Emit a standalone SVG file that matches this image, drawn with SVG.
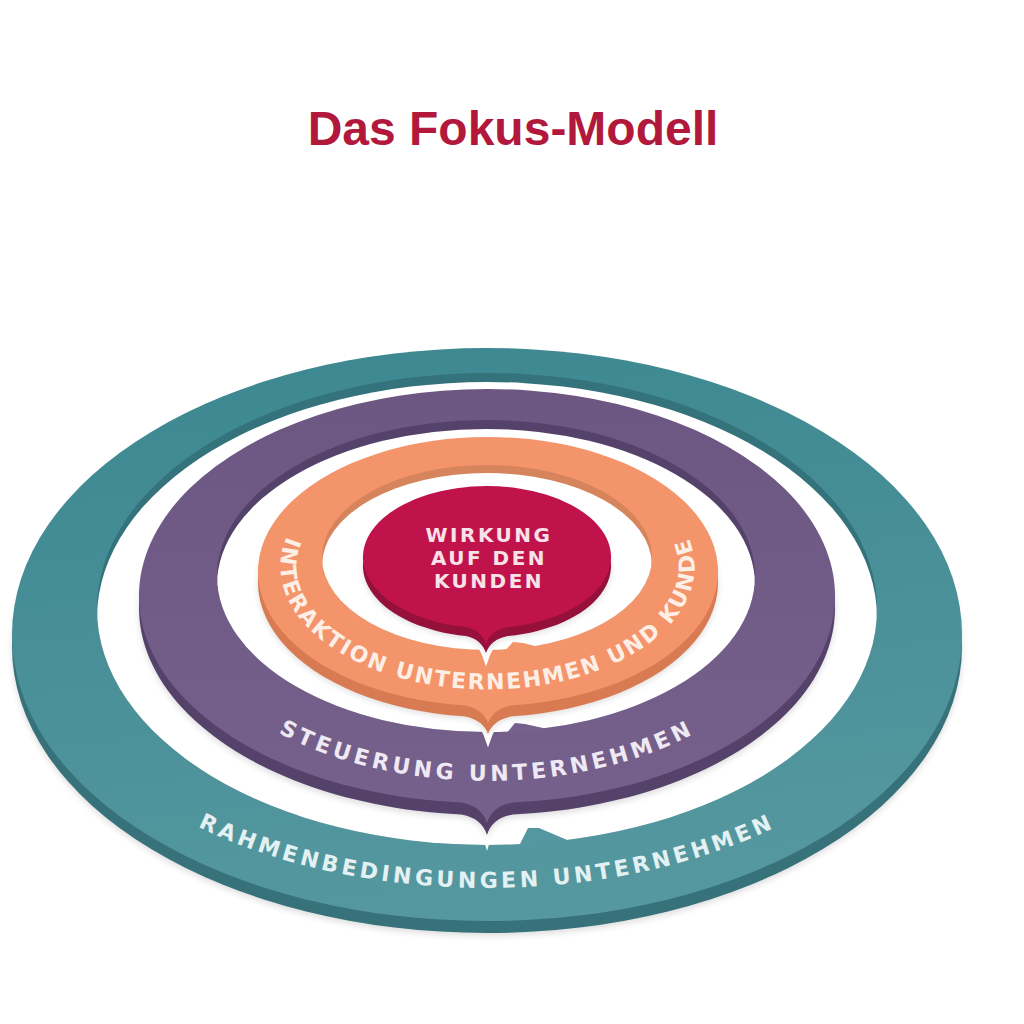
<svg xmlns="http://www.w3.org/2000/svg" xmlns:xlink="http://www.w3.org/1999/xlink" width="1024" height="1024" viewBox="0 0 1024 1024">
  <style>
    .ttl { font-family: "Liberation Sans", Arial, sans-serif; font-weight: 700; font-size: 48px; fill: #b2183b; }
    .rt { font-family: "DejaVu Sans", "Liberation Sans", sans-serif; font-weight: 700; font-size: 22px; }
    .ctr { font-family: "DejaVu Sans", "Liberation Sans", sans-serif; font-weight: 700; font-size: 20px; fill: #f7e2e9; letter-spacing: 2.5px; text-anchor: middle; }
    .halo { fill: none; stroke: #ffffff; stroke-width: 9; }
    .shadow { fill: #000000; opacity: 0.13; }
    .hole { fill: #ffffff; }
  </style>
  <defs>
    <filter id="blur" x="-10%" y="-10%" width="120%" height="120%">
      <feGaussianBlur stdDeviation="3"/>
    </filter>
    <linearGradient id="gTeal" x1="0.35" y1="0" x2="0.55" y2="1">
      <stop offset="0" stop-color="#3d8891"/>
      <stop offset="1" stop-color="#5698a0"/>
    </linearGradient>
    <linearGradient id="gPurple" x1="0" y1="0" x2="0" y2="1">
      <stop offset="0" stop-color="#6c5682"/>
      <stop offset="1" stop-color="#76618c"/>
    </linearGradient>
    <!-- outer outlines -->
    <ellipse id="sTeal" cx="487" cy="634.5" rx="475" ry="286.5"/>
    <path id="sPurple" d="M 461 802.4 A 348 207 0 1 1 513 802.4 Q 492 806 487 823 Q 482 806 461 802.4 Z"/>
    <path id="sOrange" d="M 464 705.3 A 230 134.5 0 1 1 512 705.3 Q 493 709 488 723 Q 483 709 464 705.3 Z"/>
    <path id="sRed" d="M 466 627 A 124 71 0 1 1 508 627 Q 491 630 486 644 Q 481 630 466 627 Z"/>
    <!-- holes -->
    <clipPath id="cTeal"><ellipse cx="487" cy="609" rx="390" ry="236"/></clipPath>
    <clipPath id="cPurple"><ellipse cx="486" cy="576" rx="269" ry="156"/></clipPath>
    <clipPath id="cOrange"><ellipse cx="487" cy="557.5" rx="165" ry="92.5"/></clipPath>
    <!-- text paths -->
    <path id="pTeal" d="M 38.9 666.4 A 455 268 0 0 0 935.1 666.4"/>
    <path id="pPurple" d="M 175.8 621.3 A 316 193 0 0 0 798.2 621.3"/>
    <path id="pOrange" d="M 293 524.3 A 207 123 0 1 0 682 524.3"/>
  </defs>

  <rect width="1024" height="1024" fill="#ffffff"/>

  <g id="title">
    <text class="ttl" x="513" y="145" text-anchor="middle">Das Fokus-Modell</text>
  </g>

  <g id="ring-rahmenbedingungen">
    <use href="#sTeal" class="shadow" filter="url(#blur)" transform="translate(0,15)"/>
    <use href="#sTeal" fill="#37727a" transform="translate(0,12)"/>
    <use href="#sTeal" fill="url(#gTeal)"/>
    <ellipse cx="487" cy="609" rx="390" ry="236" fill="#34737b"/>
    <ellipse class="hole" cx="487" cy="618" rx="390" ry="236" clip-path="url(#cTeal)"/>
    <polygon points="518,848 528,828 539,828 572,842" fill="#5597a0"/>
    <text class="rt" fill="#e4f1f2" letter-spacing="3.7" text-anchor="middle"><textPath href="#pTeal" startOffset="50%">RAHMENBEDINGUNGEN UNTERNEHMEN</textPath></text>
  </g>

  <g id="ring-steuerung">
    <use href="#sPurple" class="halo" transform="translate(0,12)"/>
    <use href="#sPurple" class="shadow" filter="url(#blur)" transform="translate(0,15)"/>
    <use href="#sPurple" fill="#54426a" transform="translate(0,12)"/>
    <use href="#sPurple" fill="url(#gPurple)"/>
    <ellipse cx="486" cy="576" rx="269" ry="156" fill="#55426b"/>
    <ellipse class="hole" cx="486" cy="585" rx="269" ry="156" clip-path="url(#cPurple)"/>
    <polygon points="505,735 515,723 525,724 552,730" fill="#76618c"/>
    <text class="rt" fill="#efe9f4" letter-spacing="4" text-anchor="middle"><textPath href="#pPurple" startOffset="50%">STEUERUNG UNTERNEHMEN</textPath></text>
  </g>

  <g id="ring-interaktion">
    <use href="#sOrange" class="halo" transform="translate(0,11)"/>
    <use href="#sOrange" class="shadow" filter="url(#blur)" transform="translate(0,13)"/>
    <use href="#sOrange" fill="#d97b52" transform="translate(0,11)"/>
    <use href="#sOrange" fill="#f3946a"/>
    <ellipse cx="487" cy="557.5" rx="165" ry="92.5" fill="#d5845c"/>
    <ellipse class="hole" cx="487" cy="565.5" rx="165" ry="92.5" clip-path="url(#cOrange)"/>
    <polygon points="503,653 513,642 523,643 543,648" fill="#f3946a"/>
    <text class="rt" fill="#fdeee6" letter-spacing="2" text-anchor="middle"><textPath href="#pOrange" startOffset="50%">INTERAKTION UNTERNEHMEN UND KUNDE</textPath></text>
  </g>

  <g id="node-wirkung">
    <use href="#sRed" class="halo" transform="translate(0,9)"/>
    <use href="#sRed" class="shadow" filter="url(#blur)" transform="translate(0,11)"/>
    <use href="#sRed" fill="#95103a" transform="translate(0,9)"/>
    <use href="#sRed" fill="#c1134b"/>
    <text class="ctr" x="489" y="542">WIRKUNG</text>
    <text class="ctr" x="489" y="565">AUF DEN</text>
    <text class="ctr" x="489" y="588">KUNDEN</text>
  </g>
</svg>
